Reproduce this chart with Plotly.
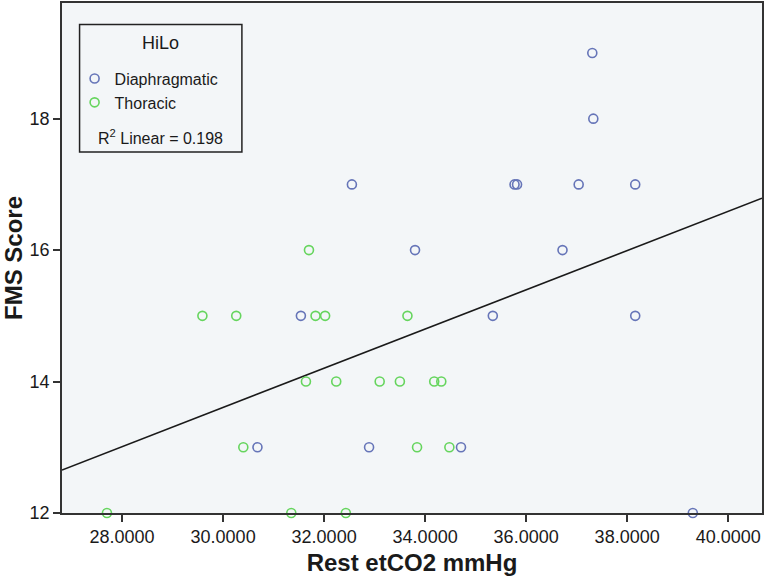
import numpy as np
import plotly.graph_objects as go

# Diaphragmatic (blue)
dia_x = [32.55, 33.80, 31.54, 30.68, 32.89, 34.71, 39.30, 35.34, 38.16, 36.72,
         35.77, 35.82, 37.04, 38.16, 37.33, 37.31]
dia_y = [17, 16, 15, 13, 13, 13, 12, 15, 15, 16, 17, 17, 17, 17, 18, 19]

# Thoracic (green)
tho_x = [31.70, 29.59, 30.26, 31.83, 32.02, 33.65, 31.64, 32.24, 33.10, 33.50,
         34.18, 34.32, 30.40, 33.84, 34.48, 27.70, 31.35, 32.43]
tho_y = [16, 15, 15, 15, 15, 15, 14, 14, 14, 14, 14, 14, 13, 13, 13, 12, 12, 12]

x_ticks = [28, 30, 32, 34, 36, 38, 40]
x_tick_labels = ["28.0000", "30.0000", "32.0000", "34.0000", "36.0000", "38.0000", "40.0000"]
y_ticks = [12, 14, 16, 18]
r2_text = "R<sup>2</sup> Linear = 0.198"

x_range = [26.81, 40.67]
y_range = [12, 19.76]

all_x = np.array(dia_x + tho_x)
all_y = np.array(dia_y + tho_y)
slope, intercept = np.polyfit(all_x, all_y, 1)
line_x = np.array(x_range)
line_y = slope * line_x + intercept

FONT = "Liberation Sans, Arial, sans-serif"
BLUE = "#6675B8"
GREEN = "#66D55E"

fig = go.Figure()
fig.add_trace(go.Scatter(x=line_x, y=line_y, mode="lines",
                         line=dict(color="#1a1a1a", width=1.6),
                         showlegend=False, hoverinfo="skip", cliponaxis=True))
fig.add_trace(go.Scatter(x=dia_x, y=dia_y, mode="markers", name="Diaphragmatic",
                         marker=dict(symbol="circle-open", size=9, color=BLUE,
                                     line=dict(width=1.6, color=BLUE)),
                         cliponaxis=False))
fig.add_trace(go.Scatter(x=tho_x, y=tho_y, mode="markers", name="Thoracic",
                         marker=dict(symbol="circle-open", size=9, color=GREEN,
                                     line=dict(width=1.6, color=GREEN)),
                         cliponaxis=False))

fig.update_layout(
    width=766, height=582,
    margin=dict(l=62, r=4, t=3, b=69, autoexpand=False),
    paper_bgcolor="white",
    plot_bgcolor="#F3F6F8",
    font=dict(family=FONT, color="#1a1a1a"),
    showlegend=True,
    legend=dict(x=0.018, y=0.885, xanchor="left", yanchor="top",
                bgcolor="rgba(0,0,0,0)", borderwidth=0,
                font=dict(size=16, family=FONT), tracegroupgap=0,
                itemwidth=30),
    xaxis=dict(range=x_range, tickvals=x_ticks, ticktext=x_tick_labels,
               showgrid=False, zeroline=False, showline=True, mirror=True,
               linecolor="#333333", linewidth=1.5, automargin=False,
               ticks="outside", ticklen=7, tickwidth=1.5, tickcolor="#333333",
               tickfont=dict(size=18, family=FONT),
               title=dict(text="<b>Rest etCO2 mmHg</b>", font=dict(size=24, family=FONT), standoff=8)),
    yaxis=dict(range=y_range, tickvals=y_ticks,
               showgrid=False, zeroline=False, showline=True, mirror=True,
               linecolor="#333333", linewidth=1.5, automargin=True,
               ticks="outside", ticklen=7, tickwidth=1.5, tickcolor="#333333",
               tickfont=dict(size=18, family=FONT),
               title=dict(text="<b>FMS Score</b>", font=dict(size=24, family=FONT), standoff=2)),
)

# legend box
fig.add_shape(type="rect", xref="paper", yref="paper",
              x0=0.0251, x1=0.257, y0=0.708, y1=0.958,
              line=dict(color="#222222", width=1.5), fillcolor="rgba(0,0,0,0)")
fig.add_annotation(text="HiLo", xref="paper", yref="paper", x=0.141, y=0.921,
                   showarrow=False, font=dict(size=18, family=FONT), xanchor="center", yanchor="middle")
fig.add_annotation(text=r2_text, xref="paper", yref="paper", x=0.141, y=0.738,
                   showarrow=False, font=dict(size=16, family=FONT), xanchor="center", yanchor="middle")

fig.write_html("out.html", config={"displayModeBar": False},
               post_script="document.body.style.margin='0';document.body.style.overflow='hidden';")
